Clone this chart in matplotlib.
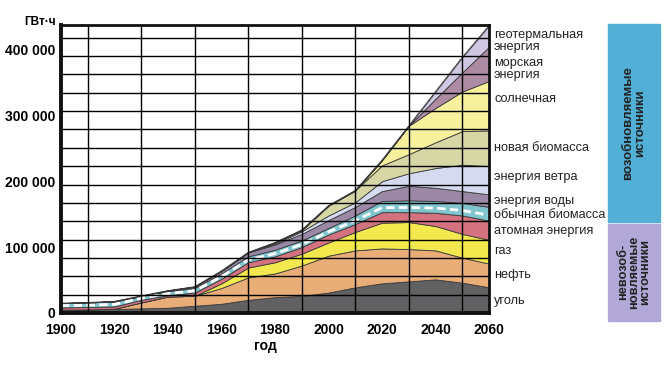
import numpy as np
import matplotlib
matplotlib.use("Agg")
import matplotlib.pyplot as plt
from matplotlib.patches import Rectangle
from matplotlib.ticker import MultipleLocator, FuncFormatter

plt.rcParams['font.family'] = ['Liberation Sans', 'DejaVu Sans']

years = np.arange(1900, 2061, 10)

# thickness of each layer, thousand GWh (bottom to top)
coal    = [5, 5.5, 6, 7, 8, 11, 14, 20, 24, 26, 31, 39, 45, 48, 51, 46, 39]
oil     = [0, 0, 0.5, 9, 17, 15, 24, 34, 36, 46, 56, 56, 53, 49, 44, 38, 36]
gas     = [0, 0, 0, 0, 0, 0, 7, 15, 17, 18, 20, 28, 39, 41, 37, 36, 36]
nuclear = [3.5, 3.5, 3.5, 4, 2, 5, 7, 8, 9, 10, 12, 12, 16, 15, 20, 28, 29]
biomass = [6.5, 7, 7.7, 6, 6, 7, 8, 9, 10, 10, 10, 13, 17, 18, 18, 19, 21]
hydro   = [0, 0, 0, 0, 1, 2, 4, 6, 8, 10, 12, 13, 15, 22, 20, 18, 19]
wind    = [0, 0, 0, 0, 0, 0, 0, 0, 1, 4, 7, 7, 15, 19, 30, 40, 43]
newbio  = [0, 0, 0, 0, 0, 0, 0, 0, 2, 2, 15, 18, 24, 29, 39, 51, 54]
solar   = [0, 0, 0, 0, 0, 0, 0, 0, 0, 0, 0, 0, 8, 43, 52, 60, 75]
marine  = [0, 0, 0, 0, 0, 0, 0, 0, 0, 0, 0, 0, 0, 0, 14, 29, 52]
geo     = [0, 0, 0, 0, 0, 0, 0, 0, 0, 0, 0, 0, 0, 0, 11, 23, 32]

layers = [coal, oil, gas, nuclear, biomass, hydro, wind, newbio, solar, marine, geo]
colors = ['#616164', '#e9ad78', '#f3e84e', '#d4737f', '#80c4cd', '#9a88a6',
          '#d5daf0', '#d7d7a6', '#f7f09c', '#ad8ba3', '#d0c8e2']
names = [('уголь', 301), ('нефть', 275), ('газ', 251), ('атомная энергия', 231),
         ('обычная биомасса', 215), ('энергия воды', 201), ('энергия ветра', 177),
         ('новая биомасса', 148), ('солнечная', 99), ('морская\nэнергия', 69),
         ('геотермальная\nэнергия', 41)]

vals = np.array(layers) * 1000

fig = plt.figure(figsize=(6.66, 3.67), dpi=100)
ax = fig.add_axes([61/666, 1 - 313/367, (489 - 61)/666, (313 - 25)/367])

ax.stackplot(years, vals, colors=colors, edgecolor='#3a3a3a', linewidth=0.6, zorder=1)

# white dashed line inside the biomass band
base = vals[:4].sum(axis=0)
ax.plot(years, base + 0.4 * vals[4], color='white', lw=2.0, dashes=(3, 1.6), zorder=2)
ax.plot(years, vals.sum(axis=0), color='#3a3a3a', lw=0.6, zorder=2)

ax.set_xlim(1900, 2060)
ax.set_ylim(0, 437000)
ax.set_xticks(np.arange(1900, 2061, 20))
ax.set_yticks(np.arange(0, 400001, 100000))
ax.xaxis.set_minor_locator(MultipleLocator(10))
ax.yaxis.set_minor_locator(MultipleLocator(27850))
ax.grid(which='minor', color='black', lw=1.0, zorder=3)
ax.grid(which='major', visible=False)
ax.set_axisbelow(False)
ax.yaxis.set_major_formatter(FuncFormatter(lambda v, p: f"{int(v):,}".replace(',', ' ')))
ax.tick_params(which='both', length=0)
ax.tick_params(axis='y', pad=4, labelsize=10)
ax.tick_params(axis='x', pad=7, labelsize=10)
for lab in ax.get_xticklabels() + ax.get_yticklabels():
    lab.set_fontweight('bold')
for sp in ax.spines.values():
    sp.set_linewidth(2.0)
    sp.set_color('#111111')
    sp.set_zorder(4)
ax.spines['left'].set_linewidth(2.8)
ax.spines['bottom'].set_linewidth(2.8)

fig.text(40/666, 1 - 22/367, 'ГВт·ч', ha='center', va='center', fontsize=8.5, fontweight='bold')
fig.text(265/666, 1 - 346/367, 'год', ha='center', va='center', fontsize=10, fontweight='bold')

for label, ypix in names:
    fig.text(494/666, 1 - ypix/367, label, ha='left', va='center', fontsize=9.2,
             linespacing=0.92, color='#222222')

fig.patches.append(Rectangle((608/666, 1 - 221.5/367), 52/666, 197.5/367,
                             transform=fig.transFigure, color='#52afd6'))
fig.patches.append(Rectangle((608/666, 1 - 320.5/367), 52/666, 96.5/367,
                             transform=fig.transFigure, color='#b2a8d8'))
fig.text(634/666, 1 - 123/367, 'возобновляемые\nисточники', rotation=90, ha='center',
         va='center', fontsize=9.5, fontweight='bold', linespacing=0.95, color='#222222')
fig.text(634/666, 1 - 272/367, 'невозоб-\nновляемые\nисточники', rotation=90, ha='center',
         va='center', fontsize=9.2, fontweight='bold', linespacing=0.88, color='#222222')

fig.savefig('out.png', dpi=100)
